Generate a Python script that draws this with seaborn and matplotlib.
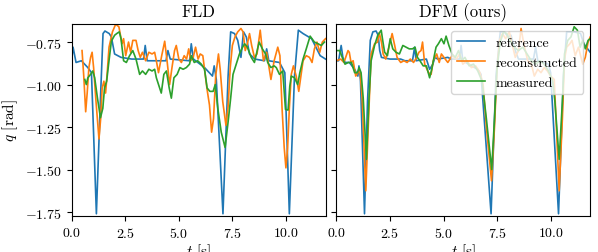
import numpy as np
import pandas as pd
import matplotlib
matplotlib.use("Agg")
import matplotlib.pyplot as plt
import seaborn as sns

# --- FLD panel: (t, q) samples ---
fld_ref_t = [0.0, 0.06, 0.2, 0.45, 0.75, 0.92, 1.15, 1.35, 1.46, 1.55, 1.75, 1.85, 2.0, 2.3, 2.8,
             3.35, 3.43, 3.52, 4.0, 4.4, 4.49, 4.6, 5.5, 5.58, 5.68, 6.2, 6.57, 6.65, 6.75, 7.06,
             7.3, 7.42, 7.6, 7.75, 7.9, 8.02, 8.15, 8.3, 8.55, 9.0, 9.1, 9.2, 9.7, 9.95, 10.16,
             10.4, 10.58, 10.8, 11.2, 11.6, 11.85]
fld_ref_q = [-0.85, -0.78, -0.87, -0.86, -0.90, -0.93, -1.76, -1.05, -0.70, -0.685, -0.70, -0.72, -0.82, -0.84, -0.85,
             -0.85, -0.77, -0.86, -0.86, -0.86, -0.80, -0.85, -0.86, -0.76, -0.85, -0.90, -0.95, -0.89, -0.97, -1.76,
             -0.95, -0.69, -0.70, -0.74, -0.84, -0.69, -0.72, -0.82, -0.85, -0.86, -0.79, -0.86, -0.87, -0.93, -1.76,
             -0.95, -0.68, -0.70, -0.73, -0.83, -0.85]

fld_rec_t = [0.48, 0.56, 0.65, 0.72, 0.80, 0.88, 0.95, 1.02, 1.12, 1.27, 1.35, 1.42, 1.5, 1.58, 1.65,
             1.74, 1.9, 2.05, 2.2, 2.35, 2.42, 2.52, 2.65, 2.75, 2.85, 3.0, 3.1, 3.2, 3.3, 3.45,
             3.6, 3.75, 3.87, 3.95, 4.05, 4.2, 4.34, 4.45, 4.57, 4.68, 4.8, 4.88, 5.0, 5.12, 5.25,
             5.36, 5.46, 5.55, 5.67, 5.78, 5.9, 6.0, 6.12, 6.2, 6.32, 6.43, 6.53, 6.62, 6.72, 6.85,
             6.93, 7.05, 7.2, 7.3, 7.4, 7.5, 7.62, 7.75, 7.9, 8.0, 8.1, 8.2, 8.3, 8.4, 8.53,
             8.65, 8.8, 8.95, 9.1, 9.3, 9.45, 9.62, 9.72, 9.82, 9.92, 10.0, 10.08, 10.16, 10.25, 10.35,
             10.48, 10.6, 10.7, 10.8, 10.95, 11.1, 11.22, 11.33, 11.45, 11.58, 11.7, 11.85]
fld_rec_q = [-0.80, -0.95, -1.16, -1.05, -0.90, -0.84, -0.81, -0.90, -1.08, -1.32, -1.20, -1.02, -0.98, -1.05, -0.94,
             -0.78, -0.69, -0.645, -0.66, -0.76, -0.73, -0.83, -0.75, -0.81, -0.74, -0.74, -0.80, -0.84, -0.81, -0.86,
             -0.81, -0.82, -0.81, -0.86, -0.93, -0.83, -0.745, -0.86, -1.0, -0.90, -0.80, -0.77, -0.85, -0.87, -0.83,
             -0.85, -0.79, -0.86, -0.84, -0.78, -0.85, -0.82, -0.83, -0.91, -1.03, -1.12, -1.28, -1.20, -0.95, -0.82,
             -0.91, -1.10, -1.24, -1.13, -0.90, -0.77, -0.72, -0.69, -0.67, -0.69, -0.80, -0.76, -0.70, -0.77, -0.84,
             -0.82, -0.68, -0.86, -0.81, -0.97, -0.86, -0.78, -0.83, -1.14, -1.37, -1.49, -1.37, -1.14, -0.94, -0.89,
             -0.95, -1.04, -0.95, -0.86, -0.83, -0.84, -0.87, -0.79, -0.75, -0.81, -0.75, -0.73]

fld_meas_t = [0.61, 0.68, 0.75, 0.88, 0.98, 1.07, 1.2, 1.34, 1.45, 1.53, 1.63, 1.72, 1.85, 2.0, 2.1,
              2.22, 2.3, 2.42, 2.55, 2.7, 2.85, 3.0, 3.17, 3.3, 3.45, 3.6, 3.75, 3.87, 3.95, 4.18,
              4.3, 4.42, 4.55, 4.65, 4.77, 4.92, 5.05, 5.2, 5.35, 5.5, 5.58, 5.72, 5.88, 6.05, 6.2,
              6.32, 6.45, 6.6, 6.7, 6.82, 6.98, 7.16, 7.3, 7.42, 7.53, 7.68, 7.83, 7.98, 8.07, 8.2,
              8.38, 8.53, 8.75, 8.9, 9.05, 9.15, 9.3, 9.45, 9.55, 9.7, 9.85, 9.98, 10.1, 10.18, 10.25,
              10.4, 10.55, 10.65, 10.8, 10.95, 11.13, 11.33, 11.5, 11.65, 11.8]
fld_meas_q = [-0.97, -1.0, -0.96, -0.94, -0.92, -0.96, -1.08, -1.195, -1.14, -1.02, -0.98, -0.88, -0.745, -0.71, -0.70,
              -0.69, -0.73, -0.86, -0.87, -0.83, -0.80, -0.85, -0.94, -0.92, -0.94, -0.91, -0.92, -0.91, -0.96, -1.05,
              -0.94, -0.92, -1.02, -1.08, -0.96, -0.94, -0.90, -0.91, -0.90, -0.88, -0.83, -0.87, -0.86, -0.88, -0.91,
              -1.02, -1.04, -1.04, -1.0, -1.14, -1.28, -1.37, -1.22, -1.08, -0.94, -0.88, -0.82, -0.78, -0.76, -0.78,
              -0.84, -0.87, -0.75, -0.79, -0.82, -0.87, -0.90, -0.89, -0.90, -0.94, -0.92, -1.146, -1.15, -1.01, -0.95,
              -0.96, -1.0, -0.93, -0.85, -0.79, -0.715, -0.75, -0.76, -0.77, -0.75]

# --- DFM panel ---
dfm_ref_t = [0.0, 0.1, 0.22, 0.3, 0.4, 0.6, 0.85, 1.0, 1.05, 1.12, 1.31, 1.45, 1.58, 1.7, 1.85,
             1.95, 2.02, 2.1, 2.5, 3.0, 3.2, 3.55, 3.65, 3.72, 4.2, 4.35, 4.5, 4.6, 4.73, 5.2,
             5.35, 5.75, 5.82, 5.9, 6.3, 6.6, 6.75, 7.22, 7.45, 7.65, 7.85, 8.0, 8.15, 8.35, 8.5,
             9.2, 9.3, 9.4, 9.9, 10.0, 10.37, 10.6, 10.75, 11.1, 11.4, 11.55, 11.85]
dfm_ref_q = [-0.86, -0.86, -0.77, -0.84, -0.87, -0.87, -0.91, -0.95, -0.89, -0.97, -1.76, -1.1, -0.74, -0.69, -0.685,
             -0.71, -0.80, -0.84, -0.85, -0.85, -0.86, -0.86, -0.78, -0.86, -0.85, -0.91, -0.88, -0.84, -0.85, -0.84,
             -0.85, -0.85, -0.77, -0.86, -0.89, -0.91, -0.94, -1.76, -0.95, -0.69, -0.69, -0.72, -0.71, -0.80, -0.85,
             -0.85, -0.78, -0.86, -0.88, -0.93, -1.76, -0.95, -0.69, -0.69, -0.70, -0.76, -0.81]

dfm_rec_t = [0.0, 0.2, 0.35, 0.54, 0.6, 0.68, 0.78, 0.9, 1.0, 1.1, 1.2, 1.37, 1.5, 1.62, 1.78,
             1.92, 2.0, 2.1, 2.18, 2.3, 2.45, 2.6, 2.72, 2.83, 3.0, 3.15, 3.3, 3.45, 3.6, 3.75,
             3.85, 3.95, 4.02, 4.12, 4.3, 4.42, 4.52, 4.68, 4.8, 4.9, 5.02, 5.2, 5.4, 5.6, 5.75,
             5.9, 6.1, 6.3, 6.5, 6.7, 6.85, 7.0, 7.24, 7.38, 7.5, 7.62, 7.75, 7.9, 8.07, 8.2,
             8.35, 8.5, 8.62, 8.75, 8.93, 9.1, 9.24, 9.4, 9.55, 9.7, 9.85, 10.0, 10.17, 10.4, 10.55,
             10.65, 10.75, 10.9, 11.0, 11.15, 11.3, 11.5, 11.62, 11.75, 11.85]
dfm_rec_q = [-0.86, -0.85, -0.87, -0.80, -0.81, -0.87, -0.86, -0.95, -0.93, -0.92, -1.08, -1.625, -1.20, -0.82, -0.76,
             -0.75, -0.695, -0.75, -0.82, -0.85, -0.78, -0.70, -0.77, -0.84, -0.87, -0.86, -0.87, -0.85, -0.87, -0.84,
             -0.81, -0.80, -0.75, -0.88, -0.93, -0.94, -0.86, -0.82, -0.87, -0.82, -0.84, -0.87, -0.83, -0.85, -0.82,
             -0.88, -0.86, -0.90, -0.89, -0.93, -1.0, -1.25, -1.566, -1.25, -0.90, -0.74, -0.70, -0.73, -0.69, -0.76,
             -0.84, -0.80, -0.67, -0.76, -0.86, -0.88, -0.95, -0.91, -0.93, -0.90, -0.92, -0.95, -0.97, -1.625, -1.2,
             -0.85, -0.78, -0.76, -0.74, -0.83, -0.78, -0.88, -0.84, -0.75, -0.72]

dfm_meas_t = [0.0, 0.15, 0.3, 0.4, 0.55, 0.7, 0.85, 0.98, 1.06, 1.15, 1.25, 1.4, 1.52, 1.62, 1.78,
              1.93, 2.09, 2.16, 2.25, 2.38, 2.51, 2.63, 2.78, 2.94, 3.1, 3.25, 3.4, 3.55, 3.67, 3.78,
              3.9, 4.05, 4.2, 4.35, 4.45, 4.57, 4.65, 4.76, 4.9, 5.02, 5.12, 5.25, 5.4, 5.55, 5.7,
              5.85, 6.0, 6.2, 6.4, 6.6, 6.8, 7.0, 7.25, 7.38, 7.5, 7.65, 7.8, 7.95, 8.1, 8.3,
              8.5, 8.7, 8.9, 9.1, 9.3, 9.5, 9.7, 9.9, 10.1, 10.2, 10.4, 10.55, 10.65, 10.8, 10.95,
              11.1, 11.25, 11.38, 11.5, 11.62, 11.75, 11.85]
dfm_meas_q = [-0.80, -0.80, -0.85, -0.88, -0.87, -0.87, -0.93, -0.93, -0.90, -0.93, -1.08, -1.44, -1.08, -0.86, -0.77,
              -0.71, -0.68, -0.74, -0.81, -0.83, -0.73, -0.79, -0.81, -0.82, -0.77, -0.78, -0.79, -0.79, -0.78, -0.84,
              -0.86, -0.89, -0.89, -0.96, -0.91, -0.83, -0.78, -0.76, -0.73, -0.76, -0.715, -0.77, -0.82, -0.84, -0.80,
              -0.86, -0.84, -0.89, -0.88, -0.92, -0.98, -1.2, -1.50, -1.2, -0.90, -0.75, -0.69, -0.70, -0.74, -0.78,
              -0.80, -0.78, -0.82, -0.86, -0.88, -0.86, -0.88, -0.92, -0.98, -1.1, -1.44, -1.1, -0.82, -0.74, -0.72,
              -0.66, -0.68, -0.78, -0.74, -0.79, -0.74, -0.73]

signals = ["reference", "reconstructed", "measured"]
colors = ["#1f77b4", "#ff7f0e", "#2ca02c"]
x_ticks = [0.0, 2.5, 5.0, 7.5, 10.0]
y_ticks = [-1.75, -1.50, -1.25, -1.00, -0.75]


def to_frame(ref_t, ref_q, rec_t, rec_q, meas_t, meas_q):
    parts = []
    for name, t, q in zip(signals, [ref_t, rec_t, meas_t], [ref_q, rec_q, meas_q]):
        parts.append(pd.DataFrame({"t": t, "q": q, "signal": name}))
    return pd.concat(parts, ignore_index=True)


df_fld = to_frame(fld_ref_t, fld_ref_q, fld_rec_t, fld_rec_q, fld_meas_t, fld_meas_q)
df_dfm = to_frame(dfm_ref_t, dfm_ref_q, dfm_rec_t, dfm_rec_q, dfm_meas_t, dfm_meas_q)

plt.rcParams["font.family"] = "serif"
plt.rcParams["font.serif"] = ["cmr10"]
plt.rcParams["mathtext.fontset"] = "cm"
plt.rcParams["axes.formatter.use_mathtext"] = True
plt.rcParams["font.size"] = 10

fig, (ax1, ax2) = plt.subplots(1, 2, sharey=True, figsize=(5.98, 2.53), dpi=100)
palette = dict(zip(signals, colors))

sns.lineplot(data=df_fld, x="t", y="q", hue="signal", hue_order=signals,
             palette=palette, estimator=None, linewidth=1.2, legend=False, ax=ax1)
sns.lineplot(data=df_dfm, x="t", y="q", hue="signal", hue_order=signals,
             palette=palette, estimator=None, linewidth=1.2, ax=ax2)

# rebuild the legend without the hue title
leg = ax2.get_legend()
handles = leg.legend_handles
labels = [txt.get_text() for txt in leg.get_texts()]
leg.remove()
ax2.legend(handles, labels, loc="upper right")

for ax, title in [(ax1, "FLD"), (ax2, "DFM (ours)")]:
    ax.set_title(title)
    ax.set_xlim(0, 11.85)
    ax.set_ylim(-1.7735, -0.644)
    ax.set_xticks(x_ticks)
    ax.set_yticks(y_ticks)
    ax.set_xlabel("$t$ [s]", fontsize=11, labelpad=1)
ax1.set_ylabel("$q$ [rad]", fontsize=11)
ax2.set_ylabel("")

fig.subplots_adjust(left=0.120, right=0.987, top=0.901, bottom=0.142, wspace=0.043)
fig.savefig("out.png", dpi=100)
